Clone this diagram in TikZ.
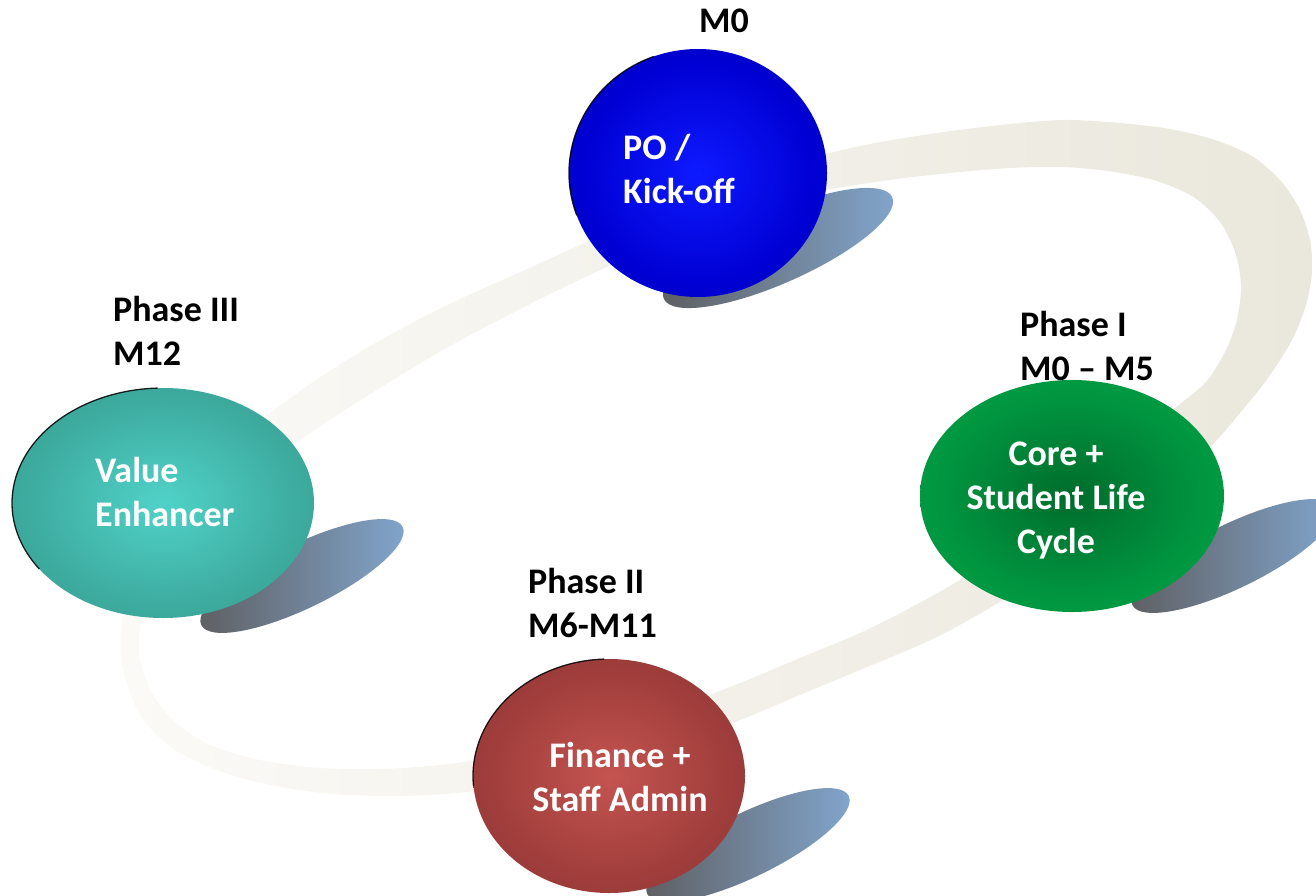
\documentclass[tikz,border=0pt]{standalone}
\usepackage{fontspec}
\setmainfont{Carlito}
\usetikzlibrary{shapes.geometric}
\definecolor{bandL}{RGB}{251,250,247}
\definecolor{bandR}{RGB}{234,231,220}
\definecolor{shL}{RGB}{94,94,96}
\definecolor{shR}{RGB}{130,166,206}
\definecolor{blueC}{RGB}{14,26,255}
\definecolor{blueM}{RGB}{0,0,212}
\definecolor{blueE}{RGB}{0,0,160}
\definecolor{tealC}{RGB}{80,210,200}
\definecolor{tealM}{RGB}{62,172,160}
\definecolor{tealE}{RGB}{48,138,126}
\definecolor{greenC}{RGB}{0,108,44}
\definecolor{greenM}{RGB}{0,150,64}
\definecolor{greenE}{RGB}{0,178,80}
\definecolor{redC}{RGB}{196,84,80}
\definecolor{redM}{RGB}{160,62,60}
\definecolor{redE}{RGB}{120,46,46}
\pgfdeclareradialshading{blueball}{\pgfpoint{0bp}{0bp}}{color(0bp)=(blueC); color(22bp)=(blueM); color(50bp)=(blueE)}
\pgfdeclareradialshading{tealball}{\pgfpoint{0bp}{0bp}}{color(0bp)=(tealC); color(22bp)=(tealM); color(50bp)=(tealE)}
\pgfdeclareradialshading{greenball}{\pgfpoint{0bp}{0bp}}{color(0bp)=(greenC); color(22bp)=(greenM); color(50bp)=(greenE)}
\pgfdeclareradialshading{redball}{\pgfpoint{0bp}{0bp}}{color(0bp)=(redC); color(22bp)=(redM); color(50bp)=(redE)}
\tikzset{
  lbl/.style={font=\bfseries\fontsize{36}{44}\selectfont, text=black, inner sep=0pt},
  inlbl/.style={lbl, text=white},
  ball/.style={ellipse, draw=none, inner sep=0pt},
  shadowell/.style={left color=shL, right color=shR},
  rimline/.style={draw=black, line width=1.3pt, opacity=0.85},
}
\begin{document}
\begin{tikzpicture}[x=1pt,y=-1pt]
\useasboundingbox (0,0) rectangle (1316,896);
\clip (0,0) rectangle (1316,896);
% loop band
\shade[even odd rule, left color=bandL, right color=bandR]
  plot[smooth cycle, tension=0.5] coordinates {
    (587,242) (650,217) (720,188) (790,164) (860,146) (930,134) (1000,125)
    (1063,120) (1120,123) (1170,129) (1215,140) (1252,156) (1280,180)
    (1299,208) (1310,240) (1312,272) (1306,305) (1292,340) (1268,378)
    (1240,413) (1210,447) (1160,490) (1105,530)
    (1050,567) (1003,600) (935,638) (860,670) (795,697) (733,723)
    (665,748) (600,768) (533,782) (467,792) (400,796) (333,794) (275,786)
    (225,773) (175,750) (140,715) (122,665) (122,620) (133,575) (155,530)
    (190,485) (225,450) (262,419) (310,384) (360,352) (410,324) (460,299)
    (525,270)}
  plot[smooth cycle, tension=0.5] coordinates {
    (607,267) (660,244) (715,222) (770,204) (826,190) (890,180) (950,173)
    (1010,168) (1063,167) (1115,172) (1160,182) (1195,198) (1220,222)
    (1235,252) (1241,285) (1237,320) (1225,352) (1205,383) (1170,412)
    (1120,455) (1070,497)
    (1015,540) (963,578) (910,608) (860,633) (800,658) (740,683)
    (680,706) (620,727) (560,743) (500,756) (440,765) (380,769) (320,768)
    (260,760) (210,745) (175,722) (152,693) (140,660) (140,627) (150,590)
    (170,553) (200,515) (240,480) (297,442) (345,410) (393,380) (443,350)
    (493,323) (550,294)};
% shadows
\shade[shadowell, rotate around={24:(778,248)}] (778,248) ellipse [x radius=125, y radius=35];
\shade[shadowell, rotate around={26:(302,576)}] (302,576) ellipse [x radius=112, y radius=32];
\shade[shadowell, rotate around={26:(1233,556)}] (1233,556) ellipse [x radius=112, y radius=32];
\shade[shadowell, rotate around={26:(748,845)}] (748,845) ellipse [x radius=112, y radius=32];
% balls
\node[ball, shading=blueball, minimum width=258pt, minimum height=248pt] (kick) at (698,173) {};
\node[ball, shading=tealball, minimum width=302pt, minimum height=230pt] (value) at (163,503) {};
\node[ball, shading=greenball, minimum width=304pt, minimum height=232pt] (core) at (1072,496) {};
\node[ball, shading=redball, minimum width=272pt, minimum height=234pt] (fin) at (609,776) {};
% dark rims on the upper-left edges
\draw[rimline] (kick.center) ++(160:129 and 124) arc[start angle=160, end angle=250, x radius=129, y radius=124];
\draw[rimline] (value.center) ++(145:151 and 115) arc[start angle=145, end angle=268, x radius=151, y radius=115];
\draw[rimline] (fin.center) ++(175:136 and 117) arc[start angle=175, end angle=268, x radius=136, y radius=117];
% labels (base anchor = baseline of the last line)
\node[lbl, anchor=base] (m0) at (724,33) {M0};
\node[inlbl, anchor=base west, align=left] (kicktxt) at (623,204) {PO /\\Kick-off};
\node[lbl, anchor=base west, align=left] (p3) at (113,365) {Phase III\\M12};
\node[inlbl, anchor=base west, align=left] (valuetxt) at (95,526) {Value\\Enhancer};
\node[lbl, anchor=base west, align=left] (p1) at (1020,380) {Phase I\\M0 – M5};
\node[inlbl, anchor=base, align=center] (coretxt) at (1056,553) {Core +\\Student Life\\Cycle};
\node[lbl, anchor=base west, align=left] (p2) at (528,637) {Phase II\\M6-M11};
\node[inlbl, anchor=base, align=center] (fintxt) at (620,811) {Finance +\\Staff Admin};
\end{tikzpicture}
\end{document}
